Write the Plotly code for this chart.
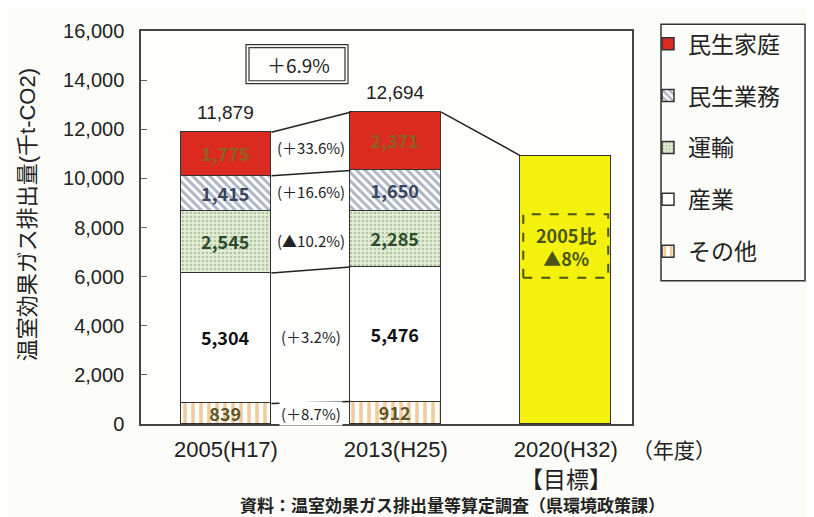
import plotly.graph_objects as go

years = ["2005(H17)", "2013(H25)", "2020(H32)"]
sectors = ["その他", "産業", "運輸", "民生業務", "民生家庭"]
other = [839, 912]
industry = [5304, 5476]
transport = [2545, 2285]
commercial = [1415, 1650]
household = [1775, 2371]
totals = [11879, 12694]
target_2020 = 10929
change_labels = ["(＋8.7%)", "(＋3.2%)", "(▲10.2%)", "(＋16.6%)", "(＋33.6%)"]
total_change = "＋6.9%"
target_label = "2005比<br>▲8%"

series = [other, industry, transport, commercial, household]

JP = "Noto Sans CJK JP"
NUM = "Liberation Sans, Noto Sans CJK JP"
W = 0.535

# plot area in window pixels (body margin of 8px is accounted for in margins)
PL, PR, PT, PB = 141, 632, 21, 424


def px(x):
    return (x - PL) / (PR - PL)


def py(y):
    return (PB - y) / (PB - PT)


styles = [
    dict(color="#ffffff", pattern=dict(shape="|", fgcolor="#e39a3c", bgcolor="#ffffff", size=8, solidity=0.45), tc="#5e5628"),
    dict(color="#ffffff", pattern=None, tc="#111111"),
    dict(color="#e2edd2", pattern=dict(shape=".", fgcolor="#7d9c6c", bgcolor="#e4eed6", size=4, solidity=0.35), tc="#2c4a2c"),
    dict(color="#ffffff", pattern=dict(shape="\\", fgcolor="#5b6b8a", bgcolor="#ffffff", size=6, solidity=0.5), tc="#3a4660"),
    dict(color="#db2a1f", pattern=None, tc="#8a6420"),
]

fig = go.Figure()
for i, (name, vals, st) in enumerate(zip(sectors, series, styles)):
    marker = dict(color=st["color"], line=dict(color="#333333", width=1.5))
    if st["pattern"]:
        marker["pattern"] = st["pattern"]
    fig.add_trace(go.Bar(
        x=[0, 1], y=vals, name=name, width=W, marker=marker,
        text=[f"{v:,}" for v in vals], textposition="inside", insidetextanchor="middle",
        textangle=0,
        textfont=dict(family=JP, size=18, color=st["tc"], weight="bold"),
        legendgroup=name, legendrank=len(sectors) - i, hoverinfo="skip",
    ))

fig.add_trace(go.Bar(
    x=[2], y=[target_2020], width=W, showlegend=False,
    marker=dict(color="#f4f20c", line=dict(color="#333333", width=1.5)), hoverinfo="skip",
))

# cumulative levels
cum = []
for b in range(2):
    c, lv = 0, []
    for s in series:
        c += s[b]
        lv.append(c)
    cum.append(lv)

shapes = []
for k in [0, 1, 3, 4]:
    shapes.append(dict(type="line", xref="x", yref="y", x0=0 + W / 2, x1=1 - W / 2,
                       y0=cum[0][k], y1=cum[1][k], line=dict(color="#222", width=1.5)))
shapes.append(dict(type="line", xref="x", yref="y", x0=1 + W / 2, x1=2 - W / 2,
                   y0=cum[1][-1], y1=target_2020, line=dict(color="#222", width=1.5)))
shapes.append(dict(type="rect", xref="x", yref="y", x0=2 - 0.25, x1=2 + 0.25,
                   y0=5950, y1=8540, line=dict(color="#4a5418", width=2, dash="dash")))
# legend box
shapes.append(dict(type="rect", xref="paper", yref="paper", x0=px(661), x1=px(805),
                   y0=py(277), y1=py(14), line=dict(color="#333", width=1.5)))
# +6.9% double box
shapes.append(dict(type="rect", xref="paper", yref="paper", x0=px(246), x1=px(348),
                   y0=py(75), y1=py(35), line=dict(color="#333", width=1.2)))
shapes.append(dict(type="rect", xref="paper", yref="paper", x0=px(249), x1=px(345),
                   y0=py(72), y1=py(38), line=dict(color="#333", width=1.2)))

ann = []
for b in range(2):
    ann.append(dict(x=b, y=cum[b][-1], xref="x", yref="y", text=f"{totals[b]:,}",
                    showarrow=False, xanchor="center", yanchor="bottom", yshift=7,
                    font=dict(family="Liberation Sans Narrow, Liberation Sans", size=19, color="#222")))
for k, lab in enumerate(change_labels):
    lo0 = cum[0][k - 1] if k else 0
    lo1 = cum[1][k - 1] if k else 0
    y = ((lo0 + cum[0][k]) / 2 + (lo1 + cum[1][k]) / 2) / 2
    ann.append(dict(x=0.5, y=y, xref="x", yref="y", text=lab, showarrow=False,
                    xanchor="center", yanchor="middle", bgcolor="#ffffff",
                    font=dict(family=JP, size=15, color="#222")))
ann.append(dict(x=2, y=(5950 + 8540) / 2, xref="x", yref="y", text=target_label,
                showarrow=False, xanchor="center", yanchor="middle",
                font=dict(family=JP, size=18, color="#4a5418", weight="bold")))
ann.append(dict(x=px(298), y=py(55), xref="paper", yref="paper", text=total_change,
                showarrow=False, xanchor="center", yanchor="middle",
                font=dict(family=JP, size=19, color="#222")))
ann.append(dict(x=px(674), y=py(450), xref="paper", yref="paper", text="（年度）",
                showarrow=False, xanchor="center", yanchor="middle",
                font=dict(family=JP, size=21, color="#222")))
ann.append(dict(x=2, y=py(479), xref="x", yref="paper", text="【目標】", showarrow=False,
                xanchor="center", yanchor="middle",
                font=dict(family=JP, size=23, color="#222")))
ann.append(dict(x=px(452), y=py(507), xref="paper", yref="paper",
                text="資料：温室効果ガス排出量等算定調査（県環境政策課）", showarrow=False,
                xanchor="center", yanchor="middle",
                font=dict(family=JP, size=17, color="#222", weight="bold")))
ann.append(dict(x=px(27), y=py(210), xref="paper", yref="paper", text="温室効果ガス排出量(千t-CO2)",
                textangle=-90, showarrow=False, xanchor="center", yanchor="middle",
                font=dict(family=NUM, size=22, color="#222")))

fig.update_layout(
    width=806, height=509,
    margin=dict(l=PL - 8, r=806 - (PR - 8), t=PT - 8, b=509 - (PB - 8)),
    paper_bgcolor="#fcfcf8", plot_bgcolor="#fefefc",
    barmode="stack", bargap=0,
    font=dict(family=JP, size=17, color="#222"),
    shapes=shapes, annotations=ann,
    uniformtext=dict(minsize=18, mode="show"),
    legend=dict(x=px(648), y=py(12), xanchor="left", yanchor="top", bgcolor="rgba(0,0,0,0)",
                borderwidth=0, traceorder="grouped", tracegroupgap=19,
                font=dict(family=JP, size=23, color="#222"), itemclick=False),
    xaxis=dict(range=[-0.5, 2.39], tickmode="array", tickvals=[0, 1, 2], ticktext=years,
               showgrid=False, zeroline=False, showline=True, linecolor="#444", linewidth=1.5,
               mirror=True, ticks="", ticklabelstandoff=5,
               tickfont=dict(family="Liberation Sans", size=22, color="#222")),
    yaxis=dict(range=[0, 16000], tickmode="array", tickvals=list(range(0, 16001, 2000)),
               tickformat=",", showgrid=False, zeroline=False, showline=True, linecolor="#444",
               linewidth=1.5, mirror=True, ticks="inside", ticklen=6, tickcolor="#666",
               ticklabelstandoff=11,
               tickfont=dict(family="Liberation Sans", size=20, color="#222")),
)

fig.write_html("out.html")
